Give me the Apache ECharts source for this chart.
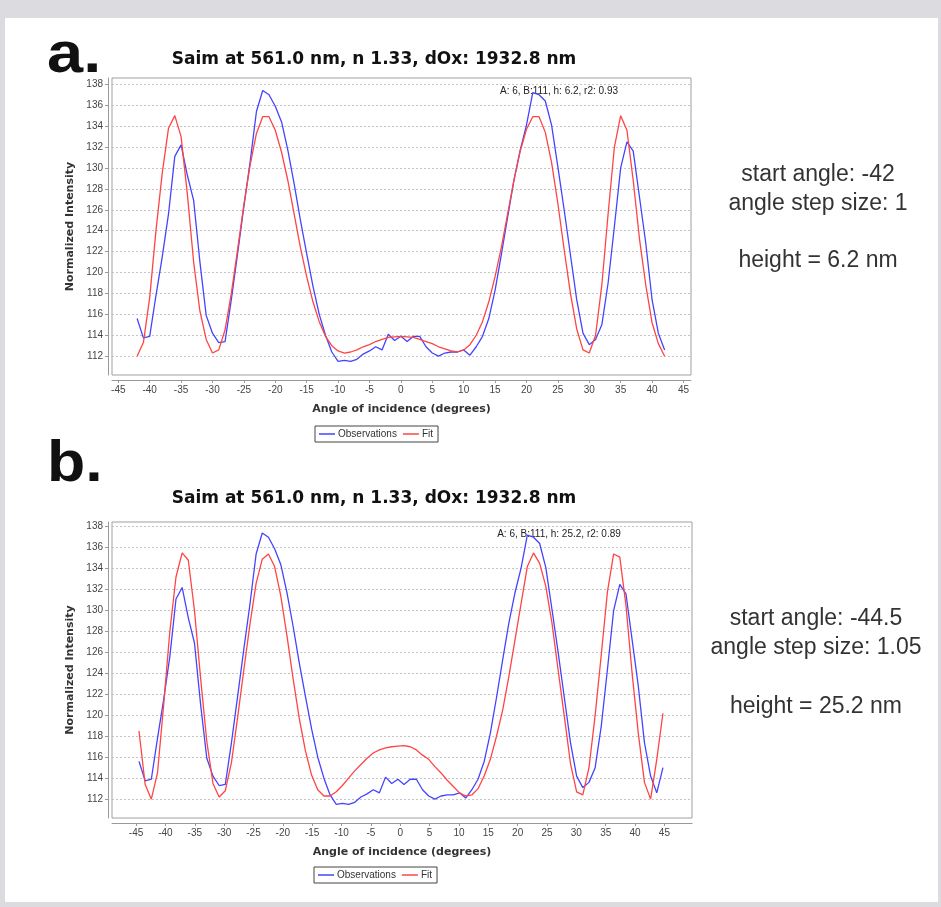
<!DOCTYPE html>
<html>
<head>
<meta charset="utf-8">
<title>SAIM fit</title>
<script src="https://cdn.jsdelivr.net/npm/echarts@6/dist/echarts.min.js"></script>
<style>
  html, body { margin: 0; padding: 0; background: #dcdce0; }
  #sheet { position: absolute; left: 5px; top: 18px; width: 933px; height: 884px; background: #fff; }
  #chart { position: absolute; left: 0; top: 0; width: 941px; height: 907px; }
</style>
</head>
<body>
<div id="sheet"></div>
<div id="chart"></div>
<script>
// tick labels
const xTicks = [-45, -40, -35, -30, -25, -20, -15, -10, -5, 0, 5, 10, 15, 20, 25, 30, 35, 40, 45]
const yTicks = [112, 114, 116, 118, 120, 122, 124, 126, 128, 130, 132, 134, 136, 138]

// panel a: start -42, step 1
const startA = -42
const stepA = 1
const obsA = [
  115.6, 113.75, 113.9, 117.8, 121.5, 125.6, 131.1, 132.2, 129.3, 126.9,
  121.0, 115.9, 114.2, 113.3, 113.4, 117.4, 121.8, 126.3, 130.6, 135.4,
  137.4, 137.0, 135.9, 134.4, 131.7, 128.5, 125.0, 121.8, 118.7, 116.0,
  114.0, 112.4, 111.5, 111.6, 111.5, 111.7, 112.2, 112.5, 112.9, 112.6,
  114.1, 113.5, 113.9, 113.4, 113.9, 113.9, 112.9, 112.3, 112.0, 112.3,
  112.4, 112.4, 112.6, 112.1, 112.9, 113.9, 115.6, 118.3, 121.7, 125.3,
  128.8, 131.7, 134.1, 137.2, 137.0, 136.4, 134.1, 130.1, 126.0, 121.7,
  117.4, 114.2, 113.1, 113.6, 115.0, 119.0, 124.4, 130.0, 132.5, 131.6,
  127.2, 122.8, 117.4, 114.2, 112.6
]
const fitA = [
  112.0, 113.3, 117.6, 124.0, 129.5, 133.8, 135.0, 133.0, 127.5, 121.0,
  116.3, 113.6, 112.3, 112.6, 114.5, 118.0, 122.2, 126.5, 130.3, 133.3,
  134.9, 134.9, 133.6, 131.5, 128.8, 125.6, 122.4, 119.6, 117.2, 115.3,
  113.9, 113.0, 112.5, 112.3, 112.4, 112.6, 112.9, 113.1, 113.4, 113.6,
  113.8, 113.85, 113.9, 113.85, 113.8, 113.6, 113.4, 113.2, 112.9, 112.7,
  112.5, 112.4, 112.6, 113.1, 114.0, 115.3, 117.2, 119.6, 122.4, 125.6,
  128.8, 131.6, 133.7, 134.9, 134.9, 133.4, 130.5, 126.6, 122.2, 118.0,
  114.6, 112.6, 112.3, 114.0, 118.8, 125.6, 132.0, 135.0, 133.6, 128.8,
  123.2, 118.8, 115.2, 113.2, 112.0
]

// panel b: start -44.5, step 1.05 (one more image than a)
const startB = -44.5
const stepB = 1.05
const obsB = obsA.concat([115.0])
const fitB = [
  118.5, 113.4, 112.0, 114.5, 121.0, 128.0, 133.2, 135.5, 134.8, 130.0,
  123.5, 117.5, 113.5, 112.2, 112.8, 115.5, 119.8, 124.3, 128.7, 132.6,
  134.9, 135.4, 134.2, 131.4, 127.6, 123.5, 119.7, 116.6, 114.3, 112.9,
  112.3, 112.3, 112.7, 113.3, 114.0, 114.7, 115.3, 115.9, 116.4, 116.7,
  116.9, 117.0, 117.05, 117.1, 117.0, 116.7, 116.2, 115.8, 115.1, 114.5,
  113.8, 113.2, 112.6, 112.3, 112.4, 113.0, 114.2, 115.8, 118.0, 120.5,
  123.7, 127.2, 130.7, 134.2, 135.5, 134.5, 132.3, 128.8, 124.3, 119.9,
  115.4, 112.7, 112.4, 115.0, 120.0, 125.8, 131.8, 135.4, 135.1, 130.5,
  124.0, 118.3, 113.6, 112.0, 115.8, 120.2
]

const toPoints = (vals, start, step) => vals.map((v, i) => [start + i * step, v])

const chart = echarts.init(document.getElementById('chart'))

const labelFont = 'Liberation Sans'
const boldFont = 'DejaVu Sans'

function xAxisFor(idx, min, max) {
  return {
    gridIndex: idx,
    type: 'value',
    min: min,
    max: max,
    offset: 5,
    name: 'Angle of incidence (degrees)',
    nameLocation: 'middle',
    nameGap: 24,
    nameTextStyle: { fontFamily: boldFont, fontWeight: 'bold', fontSize: 11, color: '#333' },
    axisLine: { show: true, onZero: false, lineStyle: { color: '#999' } },
    axisTick: { show: true, length: 3, customValues: xTicks, lineStyle: { color: '#999' } },
    axisLabel: { customValues: xTicks, fontFamily: labelFont, fontSize: 10, color: '#444', margin: 5 },
    splitLine: { show: false },
  }
}

function yAxisFor(idx, min, max) {
  return {
    gridIndex: idx,
    type: 'value',
    min: min,
    max: max,
    offset: 4,
    name: 'Normalized Intensity',
    nameLocation: 'middle',
    nameGap: 28,
    nameRotate: 90,
    nameTextStyle: { fontFamily: boldFont, fontWeight: 'bold', fontSize: 11, color: '#333' },
    axisLine: { show: true, onZero: false, lineStyle: { color: '#999' } },
    axisTick: { show: true, length: 3, customValues: yTicks, lineStyle: { color: '#999' } },
    axisLabel: { customValues: yTicks, fontFamily: labelFont, fontSize: 10, color: '#444', margin: 5 },
    splitLine: { show: true, lineStyle: { color: '#c4c4c4', type: [2, 2], width: 1 } },
  }
}

function legendAt(left, top) {
  return {
    left: left,
    top: top,
    orient: 'horizontal',
    data: ['Observations', 'Fit'],
    icon: 'rect',
    itemWidth: 16,
    itemHeight: 1.5,
    itemGap: 6,
    padding: [3, 5, 3, 4],
    borderColor: '#444',
    borderWidth: 1,
    backgroundColor: '#fff',
    selectedMode: false,
    textStyle: { fontFamily: labelFont, fontSize: 10, color: '#333', padding: [0, 0, 0, -2] },
  }
}

function text(x, y, str, font, color, align, sx) {
  return {
    type: 'text',
    x: x,
    y: y,
    scaleX: sx || 1,
    silent: true,
    style: {
      text: str,
      font: font,
      fill: color,
      align: align || 'center',
      verticalAlign: 'middle',
      textAlign: align || 'center',
      textVerticalAlign: 'middle',
    },
  }
}

const lineSeries = (name, data, color, xi, yi) => ({
  name: name,
  type: 'line',
  xAxisIndex: xi,
  yAxisIndex: yi,
  data: data,
  showSymbol: false,
  symbol: 'none',
  lineStyle: { color: color, width: 1.3 },
  itemStyle: { color: color },
  animation: false,
})

const option = {
  backgroundColor: 'transparent',
  animation: false,
  grid: [
    { left: 112, top: 78, width: 579, height: 297, show: true, borderColor: '#a0a0a0', borderWidth: 1, backgroundColor: '#fff' },
    { left: 112, top: 522, width: 580, height: 296, show: true, borderColor: '#a0a0a0', borderWidth: 1, backgroundColor: '#fff' },
  ],
  xAxis: [xAxisFor(0, -46, 46.2), xAxisFor(1, -49.1, 49.7)],
  yAxis: [yAxisFor(0, 110.2, 138.6), yAxisFor(1, 110.2, 138.45)],
  legend: [legendAt(315, 426), legendAt(314, 867)],
  series: [
    lineSeries('Observations', toPoints(obsA, startA, stepA), '#4444ff', 0, 0),
    lineSeries('Fit', toPoints(fitA, startA, stepA), '#ff4444', 0, 0),
    lineSeries('Observations', toPoints(obsB, startB, stepB), '#4444ff', 1, 1),
    lineSeries('Fit', toPoints(fitB, startB, stepB), '#ff4444', 1, 1),
  ],
  graphic: [
    text(47, 56, 'a.', 'bold 58px "Liberation Sans"', '#111', 'left', 1.12),
    text(47, 465, 'b.', 'bold 58px "Liberation Sans"', '#111', 'left', 1.08),
    text(374, 60, 'Saim at 561.0 nm, n 1.33, dOx: 1932.8 nm', 'bold 17px "DejaVu Sans"', '#111'),
    text(374, 499, 'Saim at 561.0 nm, n 1.33, dOx: 1932.8 nm', 'bold 17px "DejaVu Sans"', '#111'),
    text(559, 91, 'A: 6, B:111, h: 6.2, r2: 0.93', '10px "Liberation Sans"', '#222'),
    text(559, 534, 'A: 6, B:111, h: 25.2, r2: 0.89', '10px "Liberation Sans"', '#222'),
    text(818, 175, 'start angle: -42', '23px "Liberation Sans"', '#333'),
    text(818, 204, 'angle step size: 1', '23px "Liberation Sans"', '#333'),
    text(818, 261, 'height = 6.2 nm', '23px "Liberation Sans"', '#333'),
    text(816, 619, 'start angle: -44.5', '23px "Liberation Sans"', '#333'),
    text(816, 648, 'angle step size: 1.05', '23px "Liberation Sans"', '#333'),
    text(816, 707, 'height = 25.2 nm', '23px "Liberation Sans"', '#333'),
  ],
}

chart.setOption(option)
</script>
</body>
</html>
